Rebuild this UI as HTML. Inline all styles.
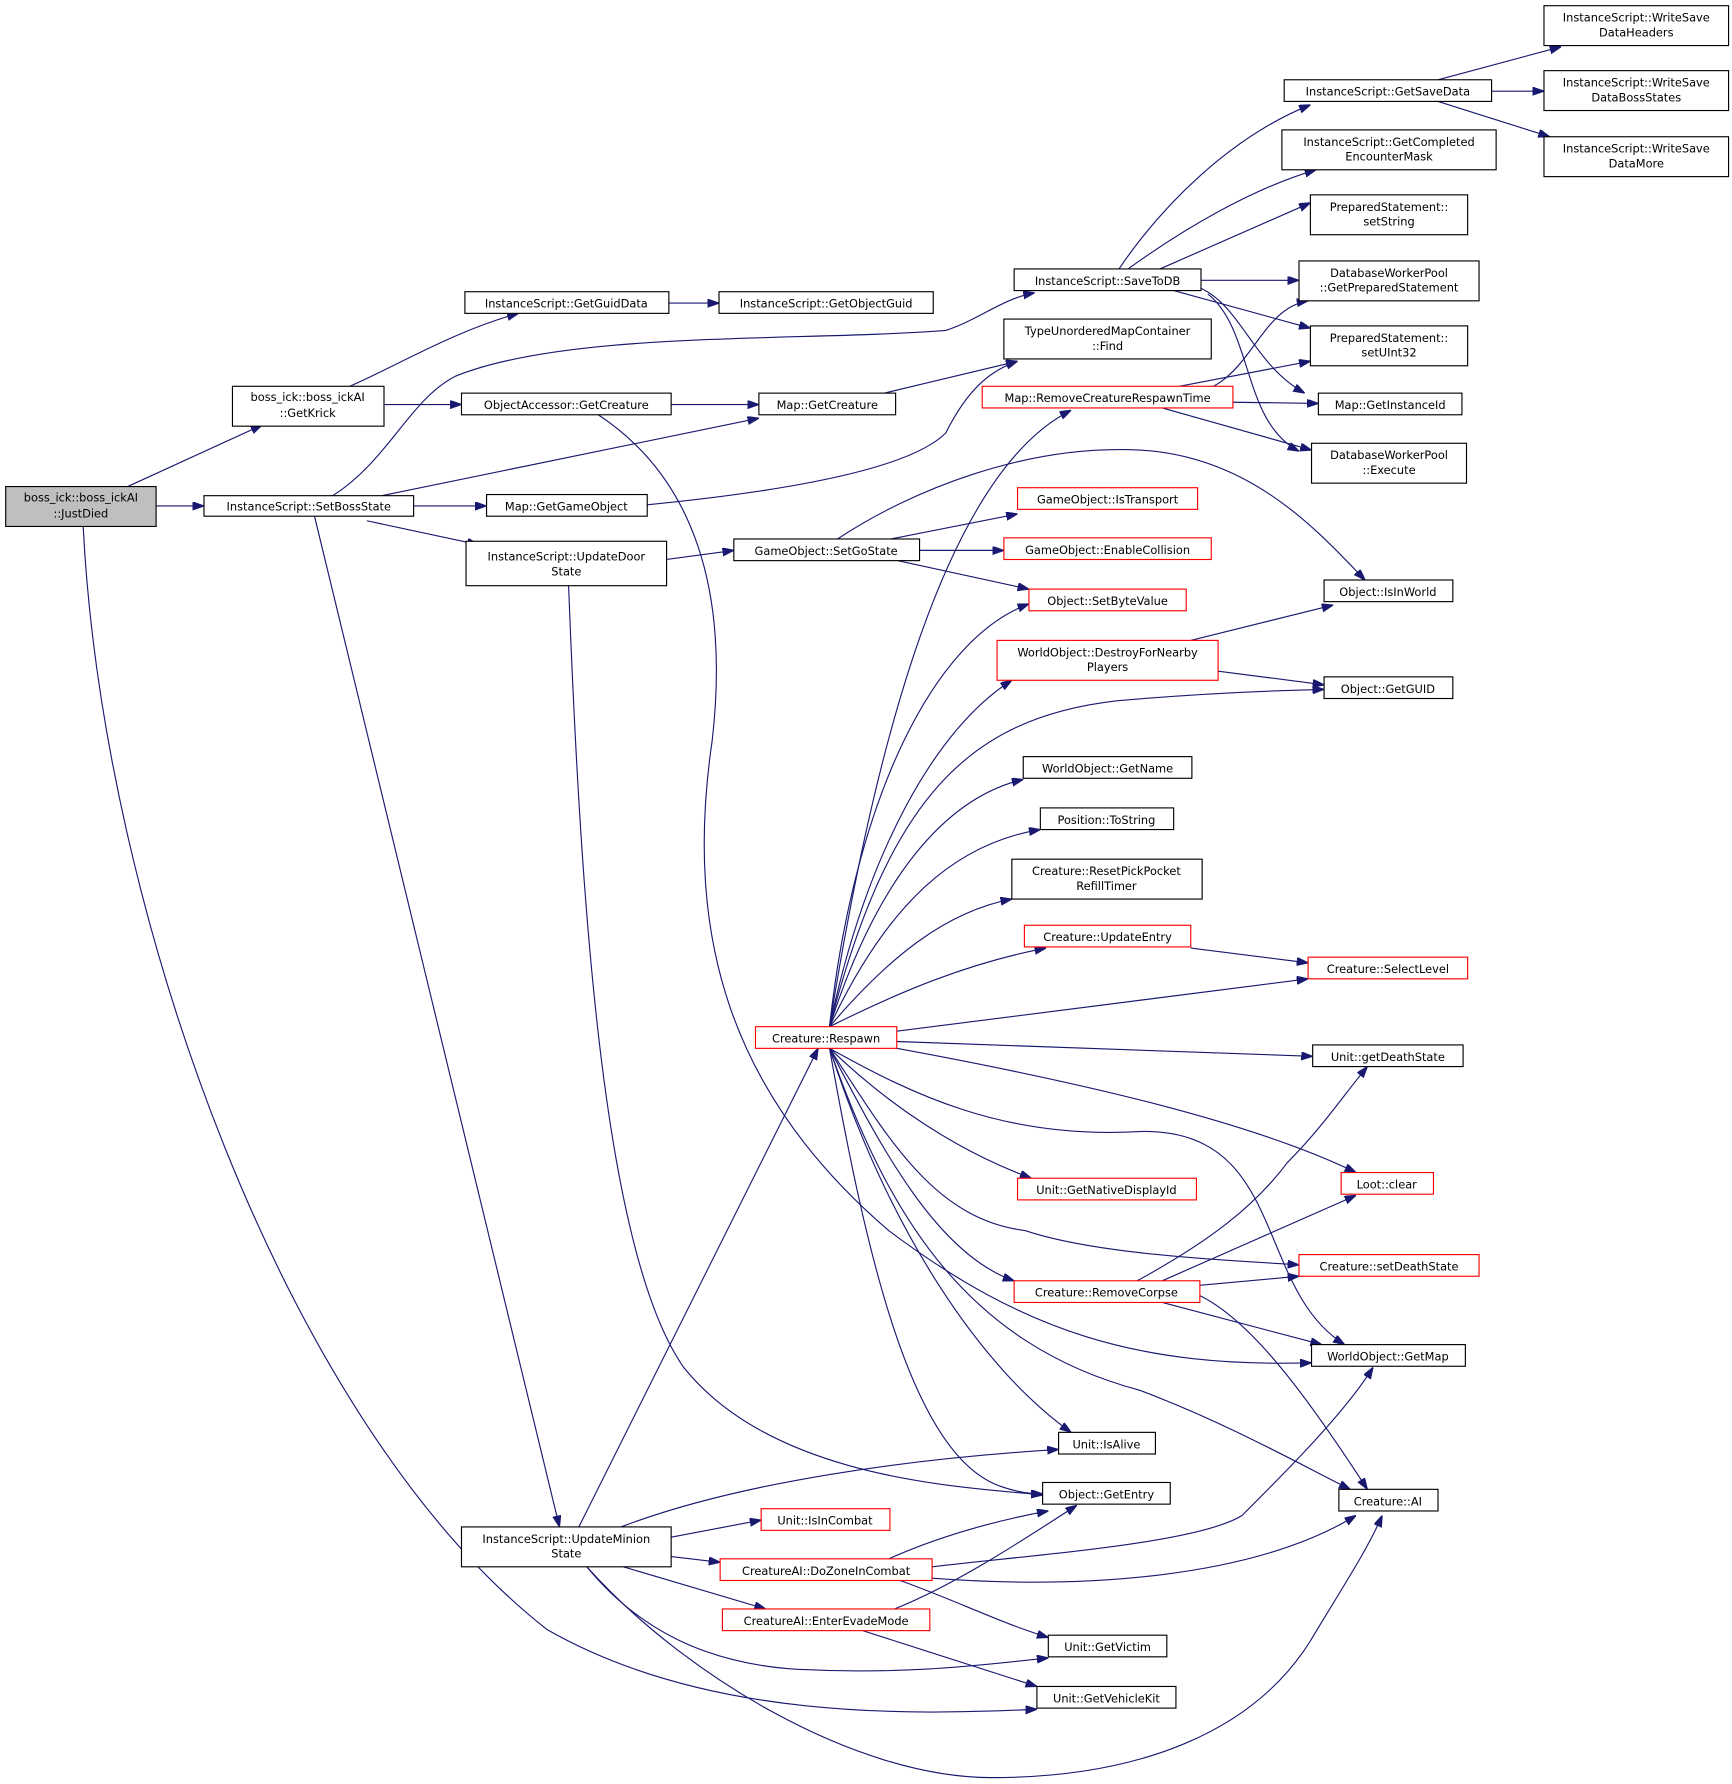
<!DOCTYPE html>
<html><head><meta charset="utf-8"><style>
html,body{margin:0;padding:0;background:#fff;}
svg{display:block;}
text{font-family:"DejaVu Sans","Liberation Sans",sans-serif;font-size:10px;text-anchor:middle;fill:#000;}
.n{fill:#fff;stroke:#000;stroke-width:1;}
.r{fill:#fff;stroke:#f00;stroke-width:1;}
.e{fill:none;stroke:#191970;stroke-width:1;marker-end:url(#a);}
</style></head><body>
<svg width="1732" height="1784" viewBox="0 0 1520 1565.6" preserveAspectRatio="none" xmlns="http://www.w3.org/2000/svg">
<defs><marker id="a" markerUnits="userSpaceOnUse" markerWidth="10" markerHeight="8" refX="10" refY="3.5" orient="auto"><path d="M0,0 L10,3.5 L0,7 z" fill="#191970" stroke="#191970"/></marker></defs>
<g>
<path class="e" d="M112,427 L230,373"/>
<path class="e" d="M137,444 L179,444"/>
<path class="e" d="M73,462 C90,800 250,1250 480,1430 C620,1510 800,1505 910,1500"/>
<path class="e" d="M307,339 C350,320 400,290 455,275"/>
<path class="e" d="M337,355 L405,355"/>
<path class="e" d="M292,435 C340,405 360,350 400,330 C500,290 700,300 830,290 C860,280 880,262 908,257"/>
<path class="e" d="M335,435 L666,367"/>
<path class="e" d="M363,444 L427,444"/>
<path class="e" d="M322,457 L420,478"/>
<path class="e" d="M276,453 L491,1340"/>
<path class="e" d="M587,266 L631,266"/>
<path class="e" d="M589,355 L666,355"/>
<path class="e" d="M525,364 C610,420 640,520 625,650 C600,820 640,960 780,1080 C900,1170 1000,1200 1151,1196"/>
<path class="e" d="M776,345 L893,317"/>
<path class="e" d="M568,443 C700,430 800,410 830,380 C850,340 870,325 893,317"/>
<path class="e" d="M585,491 L644,483"/>
<path class="e" d="M499,514 C510,800 530,1100 600,1200 C680,1300 850,1305 915,1312"/>
<path class="e" d="M735,473 C800,430 900,390 1000,395 C1100,400 1160,470 1198,509"/>
<path class="e" d="M782,473 L893,451"/>
<path class="e" d="M807,483 L881,483"/>
<path class="e" d="M788,492 L903,517"/>
<path class="e" d="M982,236 C1020,180 1080,120 1150,92"/>
<path class="e" d="M990,236 C1040,200 1100,165 1155,149"/>
<path class="e" d="M1018,236 L1150,178"/>
<path class="e" d="M1054,246 L1140,246"/>
<path class="e" d="M1030,255 L1150,288"/>
<path class="e" d="M1054,253 C1090,270 1100,320 1145,345"/>
<path class="e" d="M1060,258 C1100,290 1090,370 1140,396"/>
<path class="e" d="M1262,70 L1370,41"/>
<path class="e" d="M1309,80 L1355,80"/>
<path class="e" d="M1262,89 L1360,120"/>
<path class="e" d="M1065,339 C1100,320 1110,270 1148,264"/>
<path class="e" d="M1035,339 L1150,317"/>
<path class="e" d="M1082,353 L1157,354"/>
<path class="e" d="M1020,358 L1151,395"/>
<path class="e" d="M728,901 C760,700 820,420 940,360"/>
<path class="e" d="M728,901 C750,700 820,560 903,530"/>
<path class="e" d="M728,901 C760,750 820,640 888,597"/>
<path class="e" d="M728,901 C780,700 850,630 980,615 C1060,608 1120,606 1162,605"/>
<path class="e" d="M728,901 C770,770 830,700 898,684"/>
<path class="e" d="M728,901 C780,790 840,740 913,728"/>
<path class="e" d="M728,901 C780,840 830,800 888,789"/>
<path class="e" d="M728,901 C790,870 850,845 918,832"/>
<path class="e" d="M787,905 L1148,859"/>
<path class="e" d="M787,914 L1152,927"/>
<path class="e" d="M787,920 C950,950 1100,985 1190,1029"/>
<path class="e" d="M728,920 C800,960 880,1000 1000,993 C1130,990 1100,1130 1180,1180"/>
<path class="e" d="M728,920 C780,970 840,1010 905,1034"/>
<path class="e" d="M728,920 C780,1000 820,1070 900,1080 C960,1100 1060,1105 1140,1110"/>
<path class="e" d="M728,920 C770,1000 820,1100 890,1124"/>
<path class="e" d="M728,920 C780,1070 850,1180 1000,1220 C1080,1250 1150,1290 1185,1307"/>
<path class="e" d="M728,920 C780,1080 860,1200 940,1257"/>
<path class="e" d="M728,920 C760,1100 800,1280 880,1305 C895,1310 905,1311 915,1311"/>
<path class="e" d="M998,1124 C1060,1090 1100,1060 1130,1020 C1160,990 1180,960 1200,936"/>
<path class="e" d="M1020,1124 L1190,1049"/>
<path class="e" d="M1053,1128 L1140,1120"/>
<path class="e" d="M1020,1143 L1160,1180"/>
<path class="e" d="M1053,1137 C1100,1160 1150,1230 1200,1307"/>
<path class="e" d="M1045,832 L1148,845"/>
<path class="e" d="M1045,562 L1170,531"/>
<path class="e" d="M1069,589 L1162,601"/>
<path class="e" d="M508,1340 L718,920"/>
<path class="e" d="M545,1340 C650,1300 800,1280 929,1272"/>
<path class="e" d="M589,1349 L668,1334"/>
<path class="e" d="M589,1366 L632,1371"/>
<path class="e" d="M547,1375 L672,1412"/>
<path class="e" d="M515,1375 C560,1430 620,1460 700,1465 C800,1470 870,1460 920,1455"/>
<path class="e" d="M515,1375 C600,1470 750,1560 870,1560 C1000,1560 1100,1520 1150,1440 C1180,1390 1200,1360 1213,1330"/>
<path class="e" d="M780,1368 C820,1350 870,1335 920,1326"/>
<path class="e" d="M818,1375 C900,1365 1050,1355 1090,1330 C1130,1290 1180,1240 1205,1200"/>
<path class="e" d="M818,1385 C950,1395 1100,1385 1190,1330"/>
<path class="e" d="M790,1387 C840,1405 880,1425 920,1437"/>
<path class="e" d="M785,1412 C840,1390 900,1350 945,1321"/>
<path class="e" d="M757,1431 L910,1480"/>
</g>
<g>
<rect x="5" y="427" width="132" height="35" fill="#bfbfbf" stroke="#000"/><text x="71" y="440">boss_ick::boss_ickAI</text><text x="71" y="454">::JustDied</text>
<rect class="n" x="204" y="339" width="133" height="35"/><text x="270" y="352">boss_ick::boss_ickAI</text><text x="270" y="366">::GetKrick</text>
<rect class="n" x="179" y="435" width="184" height="18"/><text x="271" y="448">InstanceScript::SetBossState</text>
<rect class="n" x="408" y="256" width="179" height="19"/><text x="497" y="270">InstanceScript::GetGuidData</text>
<rect class="n" x="631" y="256" width="188" height="19"/><text x="725" y="270">InstanceScript::GetObjectGuid</text>
<rect class="n" x="405" y="345" width="184" height="19"/><text x="497" y="359">ObjectAccessor::GetCreature</text>
<rect class="n" x="666" y="345" width="120" height="19"/><text x="726" y="359">Map::GetCreature</text>
<rect class="n" x="427" y="434" width="141" height="19"/><text x="497" y="448">Map::GetGameObject</text>
<rect class="n" x="409" y="475" width="176" height="39"/><text x="497" y="492">InstanceScript::UpdateDoor</text><text x="497" y="505">State</text>
<rect class="n" x="644" y="473" width="163" height="19"/><text x="725" y="487">GameObject::SetGoState</text>
<rect class="n" x="881" y="280" width="182" height="35"/><text x="972" y="294">TypeUnorderedMapContainer</text><text x="972" y="307">::Find</text>
<rect class="n" x="890" y="236" width="164" height="19"/><text x="972" y="250">InstanceScript::SaveToDB</text>
<rect class="n" x="1127" y="70" width="182" height="19"/><text x="1218" y="84">InstanceScript::GetSaveData</text>
<rect class="n" x="1125" y="114" width="188" height="35"/><text x="1219" y="128">InstanceScript::GetCompleted</text><text x="1219" y="141">EncounterMask</text>
<rect class="n" x="1150" y="171" width="138" height="35"/><text x="1219" y="185">PreparedStatement::</text><text x="1219" y="198">setString</text>
<rect class="n" x="1140" y="229" width="158" height="35"/><text x="1219" y="243">DatabaseWorkerPool</text><text x="1219" y="256">::GetPreparedStatement</text>
<rect class="n" x="1150" y="286" width="138" height="35"/><text x="1219" y="300">PreparedStatement::</text><text x="1219" y="313">setUInt32</text>
<rect class="n" x="1157" y="345" width="126" height="19"/><text x="1220" y="359">Map::GetInstanceId</text>
<rect class="n" x="1151" y="389" width="136" height="35"/><text x="1219" y="403">DatabaseWorkerPool</text><text x="1219" y="416">::Execute</text>
<rect class="n" x="1355" y="5" width="162" height="35"/><text x="1436" y="19">InstanceScript::WriteSave</text><text x="1436" y="32">DataHeaders</text>
<rect class="n" x="1355" y="62" width="162" height="35"/><text x="1436" y="76">InstanceScript::WriteSave</text><text x="1436" y="89">DataBossStates</text>
<rect class="n" x="1355" y="120" width="162" height="35"/><text x="1436" y="134">InstanceScript::WriteSave</text><text x="1436" y="147">DataMore</text>
<rect class="r" x="862" y="339" width="220" height="19"/><text x="972" y="353">Map::RemoveCreatureRespawnTime</text>
<rect class="r" x="893" y="428" width="158" height="19"/><text x="972" y="442">GameObject::IsTransport</text>
<rect class="r" x="881" y="472" width="182" height="19"/><text x="972" y="486">GameObject::EnableCollision</text>
<rect class="r" x="903" y="517" width="138" height="19"/><text x="972" y="531">Object::SetByteValue</text>
<rect class="n" x="1162" y="509" width="113" height="19"/><text x="1218" y="523">Object::IsInWorld</text>
<rect class="r" x="875" y="562" width="194" height="35"/><text x="972" y="576">WorldObject::DestroyForNearby</text><text x="972" y="589">Players</text>
<rect class="n" x="1162" y="594" width="113" height="19"/><text x="1218" y="608">Object::GetGUID</text>
<rect class="n" x="898" y="664" width="148" height="19"/><text x="972" y="678">WorldObject::GetName</text>
<rect class="n" x="913" y="709" width="117" height="19"/><text x="971" y="723">Position::ToString</text>
<rect class="n" x="888" y="754" width="167" height="35"/><text x="971" y="768">Creature::ResetPickPocket</text><text x="971" y="781">RefillTimer</text>
<rect class="r" x="899" y="812" width="146" height="19"/><text x="972" y="826">Creature::UpdateEntry</text>
<rect class="r" x="1148" y="840" width="140" height="19"/><text x="1218" y="854">Creature::SelectLevel</text>
<rect class="r" x="663" y="901" width="124" height="19"/><text x="725" y="915">Creature::Respawn</text>
<rect class="n" x="1152" y="917" width="132" height="19"/><text x="1218" y="931">Unit::getDeathState</text>
<rect class="r" x="1177" y="1029" width="81" height="19"/><text x="1217" y="1043">Loot::clear</text>
<rect class="r" x="893" y="1034" width="157" height="19"/><text x="971" y="1048">Unit::GetNativeDisplayId</text>
<rect class="r" x="1140" y="1101" width="158" height="19"/><text x="1219" y="1115">Creature::setDeathState</text>
<rect class="r" x="890" y="1124" width="163" height="19"/><text x="971" y="1138">Creature::RemoveCorpse</text>
<rect class="n" x="1151" y="1180" width="135" height="19"/><text x="1218" y="1194">WorldObject::GetMap</text>
<rect class="n" x="929" y="1257" width="85" height="19"/><text x="971" y="1271">Unit::IsAlive</text>
<rect class="n" x="915" y="1301" width="112" height="19"/><text x="971" y="1315">Object::GetEntry</text>
<rect class="n" x="1175" y="1307" width="87" height="19"/><text x="1218" y="1321">Creature::AI</text>
<rect class="n" x="405" y="1340" width="184" height="35"/><text x="497" y="1354">InstanceScript::UpdateMinion</text><text x="497" y="1367">State</text>
<rect class="r" x="668" y="1324" width="113" height="19"/><text x="724" y="1338">Unit::IsInCombat</text>
<rect class="r" x="632" y="1368" width="186" height="19"/><text x="725" y="1382">CreatureAI::DoZoneInCombat</text>
<rect class="r" x="634" y="1412" width="182" height="19"/><text x="725" y="1426">CreatureAI::EnterEvadeMode</text>
<rect class="n" x="920" y="1435" width="104" height="19"/><text x="972" y="1449">Unit::GetVictim</text>
<rect class="n" x="910" y="1480" width="122" height="19"/><text x="971" y="1494">Unit::GetVehicleKit</text>
</g>
</svg>
</body></html>
